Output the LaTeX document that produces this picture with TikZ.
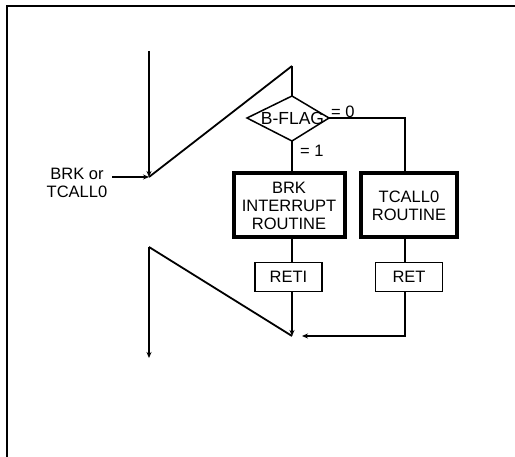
\documentclass[tikz,border=0pt]{standalone}
\usepackage{fontspec}
\setmainfont{Liberation Sans}
\usetikzlibrary{arrows.meta}
\begin{document}
\begin{tikzpicture}[x=1pt,y=-1pt,
  txt/.style={font=\fontsize{16.5}{18}\selectfont, align=center, inner sep=0pt},
  thickbox/.style={draw, line width=4pt, txt},
  thinbox/.style={draw, line width=1.8pt, txt},
  conn/.style={line width=1.8pt},
  mainln/.style={line width=2.6pt},
  tip/.style={-{Stealth[length=6pt,width=5pt]}}
]
\useasboundingbox (0,0) rectangle (515,457);
% frame
\coordinate (fbl) at (7,457);
\coordinate (ftl) at (7,6);
\coordinate (ftr) at (515,6);
\draw[line width=2.2pt] (fbl) -- (ftl) -- (ftr);

% upper main flow
\coordinate (s) at (149,51);
\coordinate (j1) at (149,177);
\coordinate (in) at (112,177);
\coordinate (t1) at (292,66);
\node[txt] (lbl) at (77,183) {BRK or\\TCALL0};
\draw[mainln,tip] (s) -- (j1);
\draw[mainln,tip] (in) -- (j1);
\draw[line width=1.8pt] (j1) -- (t1);

% diamond
\coordinate (dl) at (247,118);
\coordinate (dt) at (292,96);
\coordinate (dr) at (329,118);
\coordinate (db) at (292,141);
\draw[line width=1.5pt] (dl) -- (dt) -- (dr) -- (db) -- cycle;
\node[txt, font=\fontsize{17.5}{18}\selectfont] (d) at (292.5,118) {B-FLAG};
\draw[conn] (t1) -- (dt);

% boxes
\node[thickbox, minimum width=111pt, minimum height=64pt] (brk) at (289,205.5) {BRK\\INTERRUPT\\ROUTINE};
\node[thickbox, minimum width=96pt, minimum height=64pt] (tc) at (409,205.5) {TCALL0\\ROUTINE};
\node[thinbox, minimum width=67pt, minimum height=29pt] (reti) at (288.5,277) {RETI};
\node[thinbox, minimum width=67pt, minimum height=29pt] (ret) at (409,277) {RET};

\node[txt, anchor=west] (l0) at (331,112) {= 0};
\node[txt, anchor=west] (l1) at (300,151) {= 1};

\coordinate (r1) at (405,118);
\draw[conn] (dr) -- (r1) -- (r1 |- tc.north);
\draw[conn] (db) -- (db |- brk.north);
\draw[conn] (db |- brk.south) -- (db |- reti.north);
\draw[conn] (r1 |- tc.south) -- (r1 |- ret.north);

% returns
\coordinate (m) at (292,336);
\coordinate (mr) at (302,336);
\coordinate (rc) at (405,336);
\draw[conn,tip] (db |- reti.south) -- (m);
\draw[conn,tip] (r1 |- ret.south) -- (rc) -- (mr);

% lower main flow
\coordinate (j2) at (149,247);
\coordinate (e) at (149,358);
\draw[line width=1.8pt] (m) -- (j2);
\draw[mainln,tip] (j2) -- (e);
\end{tikzpicture}
\end{document}
